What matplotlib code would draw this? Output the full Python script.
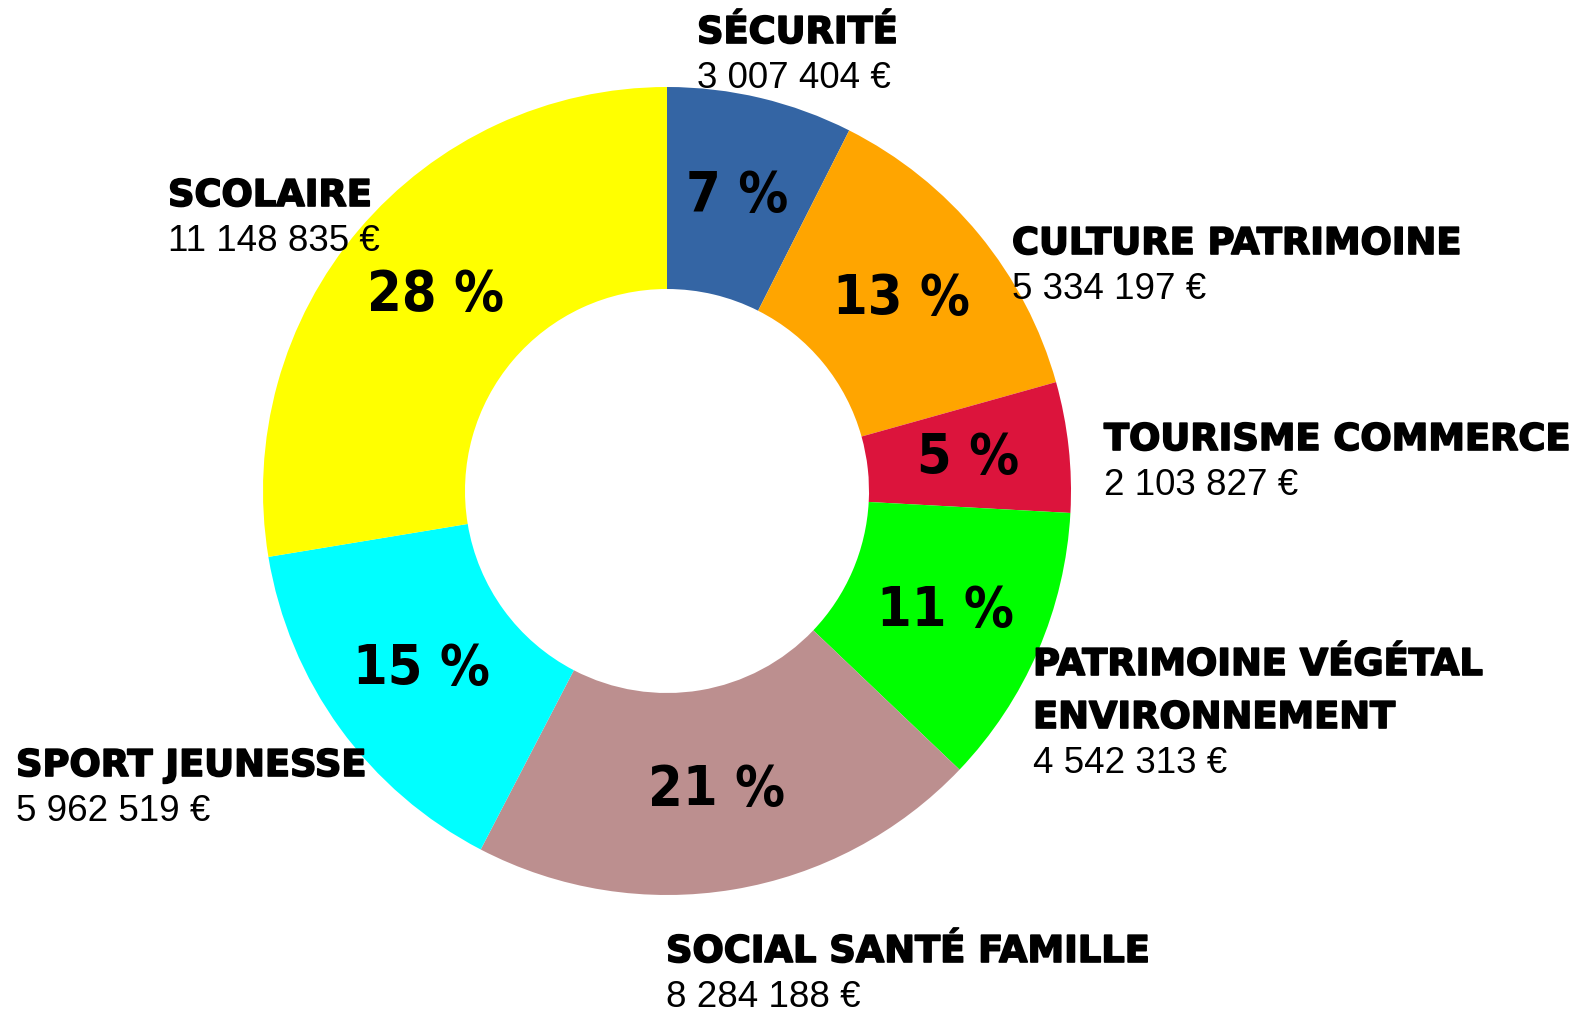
import matplotlib.pyplot as plt
import matplotlib.patheffects as pe
from matplotlib import font_manager
import numpy as np

# budget par secteur
categories = ["SÉCURITÉ", "CULTURE PATRIMOINE", "TOURISME COMMERCE",
              "PATRIMOINE VÉGÉTAL\nENVIRONNEMENT", "SOCIAL SANTÉ FAMILLE",
              "SPORT JEUNESSE", "SCOLAIRE"]
amounts = [3007404, 5334197, 2103827, 4542313, 8284188, 5962519, 11148835]
colors = ["#3465a4", "#ffa500", "#dc143c", "#00ff00", "#bc8f8f", "#00ffff", "#ffff00"]

# baseline of first label line (px from left / top of the 1593x1013 image)
label_pos = [(697, 43), (1012, 254), (1104, 450), (1033, 675),
             (666, 962), (16, 776), (168, 206)]

# narrow font for the percentages, if there is one
narrow = None
for f in font_manager.fontManager.ttflist:
    if ("Narrow" in f.name or "Condensed" in f.name or f.stretch == "condensed") \
            and f.weight in ("bold", 700):
        narrow = f.name
        break
pct_family = [narrow, "DejaVu Sans"] if narrow else ["DejaVu Sans"]
pct_size = 40 if narrow else 35

W, H = 1593, 1013
fig = plt.figure(figsize=(W / 100, H / 100), dpi=100)
ax = fig.add_axes([0, 0, 1, 1])

cx, cy, R = 667, H - 491, 404
wedges, _ = ax.pie(amounts, colors=colors, startangle=90, counterclock=False,
                   radius=R, center=(cx, cy), frame=True,
                   wedgeprops=dict(width=R * 0.5, linewidth=0))

total = sum(amounts)
for w, a in zip(wedges, amounts):
    ang = np.deg2rad((w.theta1 + w.theta2) / 2)
    x = cx + 0.75 * R * np.cos(ang)
    y = cy + 0.75 * R * np.sin(ang)
    ax.text(x, y, f"{round(100 * a / total)} %", ha="center", va="center",
            fontsize=pct_size, fontweight="bold", family=pct_family,
            fontstretch="condensed")

def fmt(v):
    return f"{v:,}".replace(",", " ") + " €"

heavy = [pe.withStroke(linewidth=1.2, foreground="black")]
for name, a, (lx, ly) in zip(categories, amounts, label_pos):
    lines = name.split("\n")
    for i, line in enumerate(lines):
        ax.text(lx, H - ly - i * 53, line, ha="left", va="baseline", fontsize=26.5,
                fontweight="bold", family="DejaVu Sans", path_effects=heavy)
    ax.text(lx, H - ly - (len(lines) - 1) * 53 - 45, fmt(a), ha="left",
            va="baseline", fontsize=26.5, family="Liberation Sans")

ax.set_xlim(0, W)
ax.set_ylim(0, H)
ax.set_aspect("equal")
ax.axis("off")

fig.savefig("out.png", dpi=100)
